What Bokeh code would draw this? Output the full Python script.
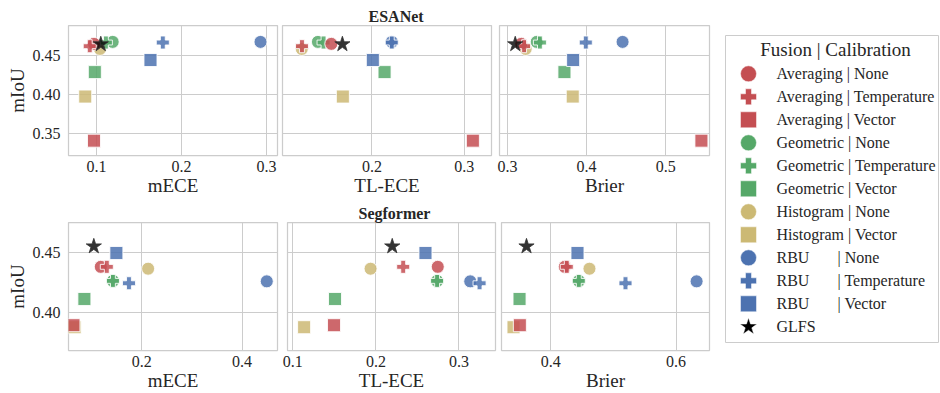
from bokeh.plotting import figure
from bokeh.layouts import row, column
from bokeh.models import Range1d, FixedTicker, PrintfTickFormatter, ColumnDataSource
from bokeh.embed import file_html
from bokeh.resources import INLINE
from bokeh.core.properties import value

# ---------------- data ----------------
fusions = ["Averaging", "Averaging", "Averaging", "Geometric", "Geometric", "Geometric",
           "Histogram", "Histogram", "RBU", "RBU", "RBU", "GLFS"]
calibrations = ["None", "Temperature", "Vector", "None", "Temperature", "Vector",
                "None", "Vector", "None", "Temperature", "Vector", ""]

esanet_miou = [0.465, 0.462, 0.341, 0.4675, 0.4667, 0.4288, 0.4585, 0.3975, 0.4675, 0.4667, 0.4443, 0.4645]
esanet_mece = [0.097, 0.092, 0.097, 0.119, 0.111, 0.098, 0.104, 0.0867, 0.293, 0.178, 0.1635, 0.105]
esanet_tlece = [0.156, 0.1242, 0.3094, 0.1415, 0.1476, 0.2137, 0.124, 0.1685, 0.2215, 0.2215, 0.201, 0.168]
esanet_brier = [0.3174, 0.321, 0.5452, 0.337, 0.341, 0.372, 0.323, 0.3825, 0.4455, 0.399, 0.383, 0.3098]

seg_miou = [0.4383, 0.4383, 0.3889, 0.4264, 0.4264, 0.4111, 0.4367, 0.3872, 0.426, 0.4244, 0.450, 0.4556]
seg_mece = [0.1182, 0.1302, 0.0637, 0.1424, 0.1424, 0.0855, 0.2126, 0.066, 0.4492, 0.1744, 0.1493, 0.1043]
seg_tlece = [0.2745, 0.2329, 0.1496, 0.2737, 0.2737, 0.1508, 0.1936, 0.1136, 0.3136, 0.3248, 0.2597, 0.2197]
seg_brier = [0.4223, 0.4255, 0.3506, 0.4447, 0.4447, 0.3501, 0.4617, 0.3405, 0.6327, 0.5192, 0.4426, 0.3612]

metric_labels = ["mECE", "TL-ECE", "Brier"]
esanet_xticks = [[0.1, 0.2, 0.3], [0.2, 0.3], [0.3, 0.4, 0.5]]
seg_xticks = [[0.2, 0.4], [0.1, 0.2, 0.3], [0.4, 0.6]]
esanet_yticks = [0.35, 0.40, 0.45]
seg_yticks = [0.40, 0.45]

esanet_xlims = [(0.067, 0.313), (0.1031, 0.3296), (0.2899, 0.5554)]
seg_xlims = [(0.0538, 0.4706), (0.0936, 0.344), (0.3213, 0.6533)]
esanet_ylim = (0.322, 0.4885)
seg_ylim = (0.3675, 0.4758)

# ---------------- style ----------------
FONT = "Liberation Serif"
TEXT = "#262626"
GRID = "#cccccc"
fusion_colors = {"Averaging": "#C44E52", "Geometric": "#55A868", "Histogram": "#CCB974",
                 "RBU": "#4C72B0", "GLFS": "#000000"}
calib_markers = {"None": "circle", "Temperature": "plus", "Vector": "square", "": "star"}
plot_sizes = {"circle": 13, "plus": 13, "square": 13, "star": 16}
legend_sizes = {"circle": 16, "plus": 16, "square": 16, "star": 18}
draw_order = [6, 7, 3, 4, 5, 0, 1, 2, 8, 9, 10, 11]


def panel(xv, yv, xr, yr, xt, yt, xlabel, show_y, fw, fh, bl, br, bt, bb,
          title=None, title_offset=0):
    p = figure(width=bl + fw + br, height=bt + fh + bb,
               x_range=Range1d(*xr), y_range=Range1d(*yr),
               output_backend="svg", toolbar_location=None,
               min_border_left=bl, min_border_right=br,
               min_border_top=bt, min_border_bottom=bb,
               background_fill_color="white", border_fill_color="white")
    xtk = FixedTicker(ticks=xt)
    ytk = FixedTicker(ticks=yt)
    p.xaxis.ticker = xtk
    p.yaxis.ticker = ytk
    p.xgrid.ticker = xtk
    p.ygrid.ticker = ytk
    p.xaxis.formatter = PrintfTickFormatter(format="%.1f")
    p.yaxis.formatter = PrintfTickFormatter(format="%.2f")
    p.grid.grid_line_color = GRID
    p.grid.grid_line_width = 1
    p.outline_line_color = GRID
    p.outline_line_width = 1.25
    for ax in p.axis:
        ax.axis_line_color = None
        ax.major_tick_line_color = None
        ax.minor_tick_line_color = None
        ax.major_tick_out = 0
        ax.major_tick_in = 0
        ax.minor_tick_out = 0
        ax.minor_tick_in = 0
        ax.major_label_text_font = FONT
        ax.major_label_text_font_size = "16px"
        ax.major_label_text_color = TEXT
        ax.axis_label_text_font = FONT
        ax.axis_label_text_font_size = "19px"
        ax.axis_label_text_font_style = "normal"
        ax.axis_label_text_color = TEXT
    p.xaxis.axis_label = xlabel
    p.xaxis.major_label_standoff = 5
    p.xaxis.axis_label_standoff = 0
    if show_y:
        p.yaxis.axis_label = "mIoU"
        p.yaxis.major_label_standoff = 8
        p.yaxis.axis_label_standoff = 2
    else:
        p.yaxis.visible = False
    if title:
        p.title.text = title
        p.title.text_font = FONT
        p.title.text_font_size = "16px"
        p.title.text_font_style = "bold"
        p.title.text_color = TEXT
        p.title.align = "left"
        p.title.offset = title_offset
        p.title.standoff = 2

    src = ColumnDataSource(dict(
        x=[xv[i] for i in draw_order],
        y=[yv[i] for i in draw_order],
        color=[fusion_colors[fusions[i]] for i in draw_order],
        marker=[calib_markers[calibrations[i]] for i in draw_order],
        size=[plot_sizes[calib_markers[calibrations[i]]] for i in draw_order],
        alpha=[0.8 if fusions[i] == "GLFS" else 0.85 for i in draw_order],
        lcolor=["#333333" if fusions[i] == "GLFS" else "white" for i in draw_order],
    ))
    p.scatter(x="x", y="y", marker="marker", size="size", fill_color="color",
              fill_alpha="alpha", line_color="lcolor", line_alpha="alpha", line_width=1, source=src)
    return p


TOP_FH, BOT_FH = 130, 128
f1 = panel(esanet_mece, esanet_miou, esanet_xlims[0], esanet_ylim, esanet_xticks[0], esanet_yticks,
           metric_labels[0], True, 209, TOP_FH, 68, 2, 25, 44)
f2 = panel(esanet_tlece, esanet_miou, esanet_xlims[1], esanet_ylim, esanet_xticks[1], esanet_yticks,
           metric_labels[1], False, 209, TOP_FH, 3, 4, 25, 44, title="ESANet", title_offset=86)
f3 = panel(esanet_brier, esanet_miou, esanet_xlims[2], esanet_ylim, esanet_xticks[2], esanet_yticks,
           metric_labels[2], False, 210, TOP_FH, 4, 3, 25, 44)

f4 = panel(seg_mece, seg_miou, seg_xlims[0], seg_ylim, seg_xticks[0], seg_yticks,
           metric_labels[0], True, 209, BOT_FH, 68, 5, 23, 43)
f5 = panel(seg_tlece, seg_miou, seg_xlims[1], seg_ylim, seg_xticks[1], seg_yticks,
           metric_labels[1], False, 208, BOT_FH, 5, 3, 23, 43, title="Segformer", title_offset=71)
f6 = panel(seg_brier, seg_miou, seg_xlims[2], seg_ylim, seg_xticks[2], seg_yticks,
           metric_labels[2], False, 208, BOT_FH, 3, 3, 23, 43)

# ---------------- legend ----------------
LW, LH = 213, 307
LBT = 35
lg = figure(width=13 + LW + 2, height=393, x_range=Range1d(0, LW), y_range=Range1d(LH, 0),
            x_axis_location=None, y_axis_location=None,
            output_backend="svg", toolbar_location=None,
            min_border_left=13, min_border_right=2, min_border_top=LBT,
            min_border_bottom=393 - LBT - LH,
            background_fill_color="white", border_fill_color="white")
lg.grid.visible = False
lg.outline_line_color = GRID
lg.outline_line_width = 1

n = len(fusions)
ly = [38.3 + 23 * i for i in range(n)]
MX, TX, RBU_BAR_X = 23, 51, 112

# full labels for all rows except RBU (which matplotlib padded with spaces)
full_idx = [i for i in range(n) if fusions[i] != "RBU"]
full_txt = [fusions[i] if calibrations[i] == "" else fusions[i] + " | " + calibrations[i]
            for i in full_idx]
rbu_idx = [i for i in range(n) if fusions[i] == "RBU"]

lsrc = ColumnDataSource(dict(
    x=[MX] * n, y=ly,
    color=[fusion_colors[f] for f in fusions],
    marker=[calib_markers[c] for c in calibrations],
    size=[legend_sizes[calib_markers[c]] for c in calibrations],
))
lg.scatter(x="x", y="y", marker="marker", size="size", fill_color="color",
           line_color="white", line_width=0.5, source=lsrc)

tstyle = dict(text_font=value(FONT), text_font_size="16px", text_baseline="middle",
              text_align="left", text_color=TEXT)
lg.text(x=[TX] * len(full_idx), y=[ly[i] for i in full_idx], text=full_txt, **tstyle)
lg.text(x=[TX] * len(rbu_idx), y=[ly[i] for i in rbu_idx],
        text=[fusions[i] for i in rbu_idx], **tstyle)
lg.text(x=[RBU_BAR_X] * len(rbu_idx), y=[ly[i] for i in rbu_idx],
        text=["| " + calibrations[i] for i in rbu_idx], **tstyle)
lg.text(x=[110], y=[14], text=["Fusion | Calibration"], text_font=value(FONT),
        text_font_size="19px", text_baseline="middle", text_align="center", text_color=TEXT)

layout = row(column(row(f1, f2, f3), row(f4, f5, f6)), lg)
open("out.html", "w").write(file_html(layout, INLINE))
